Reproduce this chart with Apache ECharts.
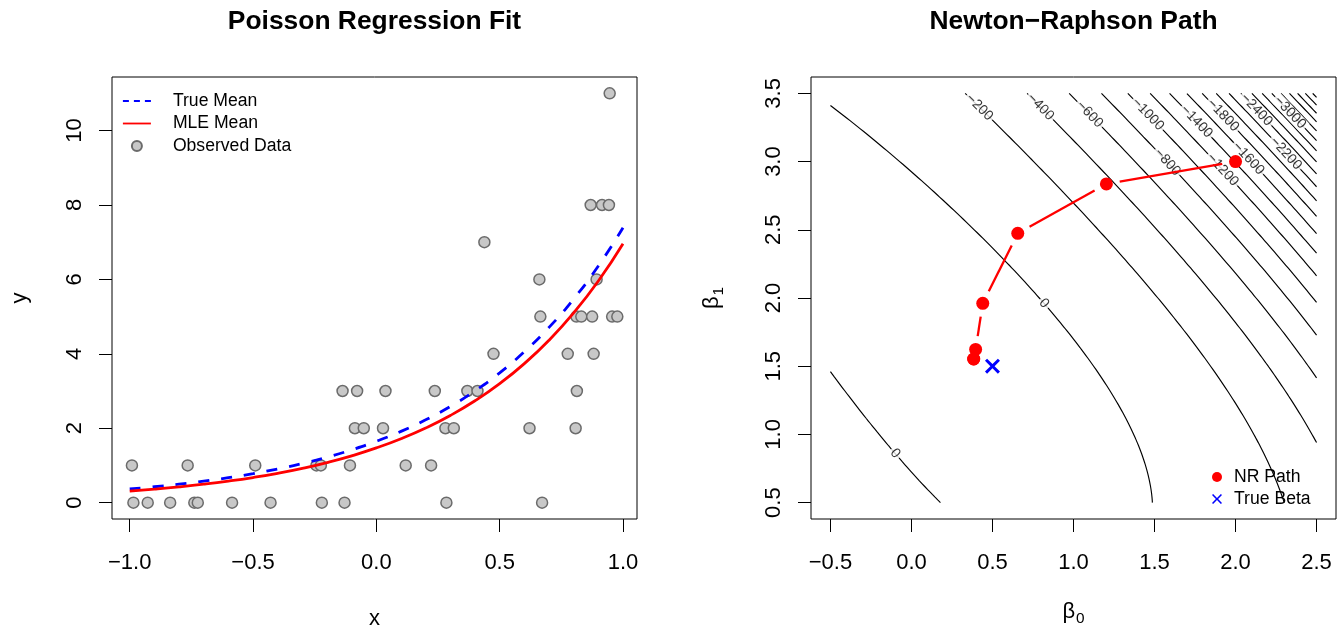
<!DOCTYPE html>
<html>
<head>
<meta charset="utf-8">
<script src="https://cdn.jsdelivr.net/npm/echarts@6.0.0/dist/echarts.min.js"></script>
<style>
html,body{margin:0;padding:0;background:#fff;}
#chart{width:1343px;height:632px;}
</style>
</head>
<body>
<div id="chart"></div>
<script>
// ---------------- data ----------------
// Observed Poisson data (x, count)
const obsX = [-0.985,-0.927,-0.836,-0.738,-0.724,-0.585,-0.429,-0.221,-0.129,0.284,0.672,
              -0.991,-0.765,-0.491,-0.243,-0.225,-0.107,0.119,0.222,
              -0.087,-0.051,0.027,0.280,0.314,0.621,0.808,
              -0.137,-0.078,0.037,0.237,0.369,0.410,0.813,
              0.475,0.776,0.881,
              0.665,0.811,0.831,0.875,0.956,0.977,
              0.661,0.893,
              0.438,
              0.869,0.915,0.943,
              0.946];
const obsY = [0,0,0,0,0,0,0,0,0,0,0,
              1,1,1,1,1,1,1,1,
              2,2,2,2,2,2,2,
              3,3,3,3,3,3,3,
              4,4,4,
              5,5,5,5,5,5,
              6,6,
              7,
              8,8,8,
              11];
// Fitted curves
const curveX   = [-1,-0.9,-0.8,-0.7,-0.6,-0.5,-0.4,-0.3,-0.2,-0.1,0,0.1,0.2,0.3,0.4,0.5,0.6,0.7,0.8,0.9,1];
const trueMean = [0.368,0.427,0.497,0.577,0.670,0.779,0.905,1.051,1.221,1.419,1.649,1.916,2.226,2.586,3.004,3.490,4.055,4.711,5.474,6.360,7.389];
const mleMean  = [0.310,0.363,0.424,0.495,0.578,0.675,0.789,0.922,1.077,1.258,1.470,1.717,2.006,2.343,2.737,3.198,3.736,4.364,5.099,5.956,6.959];
// Newton-Raphson iterates and the true coefficients
const nrB0 = [2.0, 1.203, 0.656, 0.440, 0.396, 0.384, 0.384];
const nrB1 = [3.0, 2.836, 2.474, 1.961, 1.623, 1.553, 1.553];
const trueBeta = [0.5, 1.5];
// Contour grid range and levels of the log-likelihood surface
const gridB0Range = [-0.5, 2.5];
const gridB1Range = [0.5, 3.5];
const contourLevels = [0,-200,-400,-600,-800,-1000,-1200,-1400,-1600,-1800,-2000,-2200,-2400,-2600,-2800,-3000,-3200,-3400,-3600,-3800,-4000,-4200,-4400,-4600,-4800,-5000];
// Tick values / labels
const fitXTicks = [-1,-0.5,0,0.5,1];
const fitXTickLabels = ['\u22121.0','\u22120.5','0.0','0.5','1.0'];
const fitYTicks = [0,2,4,6,8,10];
const fitYTickLabels = ['0','2','4','6','8','10'];
const nrXTicks = [-0.5,0,0.5,1,1.5,2,2.5];
const nrXTickLabels = ['\u22120.5','0.0','0.5','1.0','1.5','2.0','2.5'];
const nrYTicks = [0.5,1,1.5,2,2.5,3,3.5];
const nrYTickLabels = ['0.5','1.0','1.5','2.0','2.5','3.0','3.5'];

// ---------------- layout (not data) ----------------
const FONT = '"Liberation Sans", Arial, Helvetica, sans-serif';
const fitXRange = [-1.0718, 1.0568];
const fitYRange = [-0.44, 11.44];
const nrXRange = [-0.62, 2.62];
const nrYRange = [0.38, 3.62];
const GRID_W = 525, GRID_H = 442;
// where the reference put each contour label: [level, b0, b1]
const contourLabelSpots = [
  [-200, 0.405, 3.363], [-400, 0.765, 3.375], [-600, 1.063, 3.314], [-800, 1.536, 2.934],
  [-1000, 1.412, 3.301], [-1200, 1.865, 2.873], [-1400, 1.710, 3.228], [-1600, 2.020, 2.959],
  [-1800, 1.865, 3.277], [-2200, 2.245, 2.996], [-2400, 2.081, 3.314], [-3000, 2.272, 3.301],
  [0, 0.816, 1.966], [0, -0.103, 0.863]
];

// ---------------- Poisson log-likelihood surface from the observed data ----------------
const NG = 151;
const b0Grid = [], b1Grid = [];
for (let i = 0; i < NG; i++) {
  b0Grid.push(gridB0Range[0] + (gridB0Range[1] - gridB0Range[0]) * i / (NG - 1));
  b1Grid.push(gridB1Range[0] + (gridB1Range[1] - gridB1Range[0]) * i / (NG - 1));
}
let Sy = 0, Syx = 0;
obsX.forEach((x, k) => { Sy += obsY[k]; Syx += obsY[k] * x; });
const E1 = b1Grid.map(b1 => obsX.reduce((s, x) => s + Math.exp(b1 * x), 0));
const Z = b0Grid.map(b0 => b1Grid.map((b1, j) => b0 * Sy + b1 * Syx - Math.exp(b0) * E1[j]));

function contourPolylines(level) {
  const pts = {}, segs = [];
  function ep(key, x1, y1, v1, x2, y2, v2) {
    if (!(key in pts)) { const t = (level - v1) / (v2 - v1); pts[key] = [x1 + t * (x2 - x1), y1 + t * (y2 - y1)]; }
    return key;
  }
  for (let i = 0; i < NG - 1; i++) for (let j = 0; j < NG - 1; j++) {
    const a = Z[i][j], b = Z[i + 1][j], c = Z[i + 1][j + 1], d = Z[i][j + 1];
    const e = [];
    if ((a >= level) !== (b >= level)) e.push(ep('h' + i + '_' + j, b0Grid[i], b1Grid[j], a, b0Grid[i + 1], b1Grid[j], b));
    if ((b >= level) !== (c >= level)) e.push(ep('v' + (i + 1) + '_' + j, b0Grid[i + 1], b1Grid[j], b, b0Grid[i + 1], b1Grid[j + 1], c));
    if ((d >= level) !== (c >= level)) e.push(ep('h' + i + '_' + (j + 1), b0Grid[i], b1Grid[j + 1], d, b0Grid[i + 1], b1Grid[j + 1], c));
    if ((a >= level) !== (d >= level)) e.push(ep('v' + i + '_' + j, b0Grid[i], b1Grid[j], a, b0Grid[i], b1Grid[j + 1], d));
    if (e.length === 2) segs.push([e[0], e[1]]);
    else if (e.length === 4) {
      const m = (a + b + c + d) / 4;
      if ((m >= level) === (a >= level)) { segs.push([e[0], e[1]]); segs.push([e[2], e[3]]); }
      else { segs.push([e[0], e[3]]); segs.push([e[1], e[2]]); }
    }
  }
  const adj = {};
  segs.forEach((s, k) => { (adj[s[0]] = adj[s[0]] || []).push(k); (adj[s[1]] = adj[s[1]] || []).push(k); });
  const used = new Array(segs.length).fill(false);
  const lines = [];
  for (let k = 0; k < segs.length; k++) {
    if (used[k]) continue;
    used[k] = true;
    const chain = [segs[k][0], segs[k][1]];
    [true, false].forEach(atEnd => {
      while (true) {
        const key = atEnd ? chain[chain.length - 1] : chain[0];
        const nb = (adj[key] || []).find(m => !used[m]);
        if (nb === undefined) break;
        used[nb] = true;
        const s = segs[nb];
        const nxt = s[0] === key ? s[1] : s[0];
        if (atEnd) chain.push(nxt); else chain.unshift(nxt);
      }
    });
    lines.push(chain.map(key => pts[key]));
  }
  return lines;
}

const contourByLevel = {};
const contourSeries = [];
contourLevels.forEach(level => {
  const polys = contourPolylines(level);
  contourByLevel[level] = polys;
  polys.forEach(poly => {
    contourSeries.push({
      type: 'line', xAxisIndex: 1, yAxisIndex: 1, data: poly, symbol: 'none', silent: true,
      lineStyle: { color: '#000', width: 1.15 }, z: 1, emphasis: { disabled: true }
    });
  });
});

// contour labels, snapped onto the computed lines and oriented along them
const sx = GRID_W / (nrXRange[1] - nrXRange[0]);
const sy = GRID_H / (nrYRange[1] - nrYRange[0]);
const labelData = [];
contourLabelSpots.forEach(([level, hx, hy]) => {
  const polys = contourByLevel[level] || [];
  let best = null;
  polys.forEach(poly => poly.forEach((p, k) => {
    const d = Math.hypot((p[0] - hx) * sx, (p[1] - hy) * sy);
    if (!best || d < best.d) best = { d, poly, k };
  }));
  if (!best) return;
  const poly = best.poly, k = best.k;
  const p1 = poly[Math.max(0, k - 3)], p2 = poly[Math.min(poly.length - 1, k + 3)];
  let ang = Math.atan2((p2[1] - p1[1]) * sy, (p2[0] - p1[0]) * sx) * 180 / Math.PI;
  if (ang > 90) ang -= 180;
  if (ang < -90) ang += 180;
  const txt = level < 0 ? '\u2212' + Math.abs(level) : String(level);
  labelData.push({ value: poly[k], label: { rotate: ang, formatter: txt } });
});

// ---------------- chart ----------------
function valueAxis(gridIndex, range, ticks, labels, isY, margin) {
  return {
    type: 'value', gridIndex, min: range[0], max: range[1],
    splitLine: { show: false },
    axisLine: { show: false, onZero: false },
    axisTick: { show: true, inside: false, length: 13, customValues: ticks, lineStyle: { color: '#000', width: 1 } },
    axisLabel: {
      show: true, customValues: ticks, margin, rotate: isY ? 90 : 0,
      formatter: v => { const i = ticks.indexOf(v); return i >= 0 ? labels[i] : ''; },
      color: '#000', fontSize: 22, fontFamily: FONT
    },
    nameLocation: 'middle', nameMoveOverlap: false,
    nameTextStyle: { color: '#000', fontSize: 22, fontFamily: FONT }
  };
}

const xAxes = [
  Object.assign(valueAxis(0, fitXRange, fitXTicks, fitXTickLabels, false, 33), { name: 'x', nameGap: 89 }),
  Object.assign(valueAxis(1, nrXRange, nrXTicks, nrXTickLabels, false, 33), { name: '{b|\u03b2}{s|0}', nameGap: 78 })
];
const yAxes = [
  Object.assign(valueAxis(0, fitYRange, fitYTicks, fitYTickLabels, true, 26), { name: 'y', nameGap: 81 }),
  Object.assign(valueAxis(1, nrYRange, nrYTicks, nrYTickLabels, true, 26), { name: '{b|\u03b2}{s|1}', nameGap: 85 })
];
const richSub = {
  b: { fontSize: 22, lineHeight: 26, fontFamily: FONT, color: '#000' },
  s: { fontSize: 15.4, padding: [14, 0, 0, 1], fontFamily: FONT, color: '#000' }
};
xAxes[1].nameTextStyle.rich = richSub;
yAxes[1].nameTextStyle.rich = richSub;

const xPath = 'path://M0,1.4L1.4,0L5,3.6L8.6,0L10,1.4L6.4,5L10,8.6L8.6,10L5,6.4L1.4,10L0,8.6L3.6,5Z';
const xPathThin = 'path://M0,1.1L1.1,0L5,3.9L8.9,0L10,1.1L6.1,5L10,8.9L8.9,10L5,6.1L1.1,10L0,8.9L3.9,5Z';

const option = {
  animation: false,
  backgroundColor: '#fff',
  textStyle: { fontFamily: FONT },
  title: [
    { text: 'Poisson Regression Fit', left: 374.5, top: 9, textAlign: 'center', padding: 0,
      textStyle: { fontSize: 26.4, fontWeight: 'bold', color: '#000', fontFamily: FONT } },
    { text: 'Newton\u2212Raphson Path', left: 1073.5, top: 9, textAlign: 'center', padding: 0,
      textStyle: { fontSize: 26.4, fontWeight: 'bold', color: '#000', fontFamily: FONT } }
  ],
  grid: [
    { left: 112, top: 77, width: GRID_W, height: GRID_H, show: true, borderColor: '#000', borderWidth: 1, containLabel: false, outerBoundsMode: 'none' },
    { left: 811, top: 77, width: GRID_W, height: GRID_H, show: true, borderColor: '#000', borderWidth: 1, containLabel: false, outerBoundsMode: 'none' }
  ],
  xAxis: xAxes,
  yAxis: yAxes,
  legend: [
    {
      orient: 'vertical', left: 117, top: 87, itemWidth: 28, itemHeight: 10, itemGap: 4.5, selectedMode: false,
      textStyle: { fontSize: 17.6, color: '#000', fontFamily: FONT, padding: [0, 0, 0, 17] },
      data: [
        { name: 'True Mean', lineStyle: { width: 1.8, type: [6, 5] }, itemStyle: { opacity: 0 } },
        { name: 'MLE Mean', lineStyle: { width: 1.8 }, itemStyle: { opacity: 0 } },
        { name: 'Observed Data', itemStyle: { opacity: 1 } }
      ]
    },
    {
      orient: 'vertical', left: 1207, top: 463, itemWidth: 14, itemHeight: 10, itemGap: 4, selectedMode: false,
      textStyle: { fontSize: 17.6, color: '#000', fontFamily: FONT, padding: [0, 0, 0, 5] },
      data: [
        { name: 'NR Path', icon: 'circle', itemStyle: { opacity: 1 } },
        { name: 'True Beta', icon: xPathThin, itemStyle: { opacity: 1 } }
      ]
    }
  ],
  series: [
    {
      name: 'Observed Data', type: 'scatter', xAxisIndex: 0, yAxisIndex: 0,
      data: obsX.map((x, i) => [x, obsY[i]]),
      symbol: 'circle', symbolSize: 11,
      itemStyle: { color: '#C8C8C8', borderColor: '#6B6B6B', borderWidth: 1.5, opacity: 1 },
      z: 2, emphasis: { disabled: true }
    },
    {
      name: 'True Mean', type: 'line', xAxisIndex: 0, yAxisIndex: 0,
      data: curveX.map((x, i) => [x, trueMean[i]]), symbol: 'none', smooth: true,
      lineStyle: { color: '#0000FF', width: 2.8, type: [11, 12] }, itemStyle: { color: '#0000FF' },
      z: 3, emphasis: { disabled: true }
    },
    {
      name: 'MLE Mean', type: 'line', xAxisIndex: 0, yAxisIndex: 0,
      data: curveX.map((x, i) => [x, mleMean[i]]), symbol: 'none', smooth: true,
      lineStyle: { color: '#FF0000', width: 2.8 }, itemStyle: { color: '#FF0000' },
      z: 4, emphasis: { disabled: true }
    },
    ...contourSeries,
    {
      name: 'contour labels', type: 'scatter', xAxisIndex: 1, yAxisIndex: 1,
      data: labelData, symbolSize: 1, itemStyle: { color: 'rgba(0,0,0,0)' }, silent: true, z: 2,
      label: { show: true, position: 'inside', fontSize: 14, color: '#000', fontFamily: FONT,
               backgroundColor: '#fff', padding: [0, 2], lineHeight: 13 },
      emphasis: { disabled: true }
    },
    {
      name: 'path segments', type: 'custom', xAxisIndex: 1, yAxisIndex: 1, silent: true, z: 3,
      data: nrB0.map((b, i) => [b, nrB1[i]]), encode: { x: 0, y: 1 },
      renderItem: (params, api) => {
        const i = params.dataIndex;
        if (i >= nrB0.length - 1) return { type: 'group', children: [] };
        const p = api.coord([nrB0[i], nrB1[i]]), q = api.coord([nrB0[i + 1], nrB1[i + 1]]);
        const dx = q[0] - p[0], dy = q[1] - p[1], L = Math.hypot(dx, dy), gap = 13.5;
        if (L <= 2 * gap) return { type: 'group', children: [] };
        const ux = dx / L, uy = dy / L;
        return {
          type: 'line',
          shape: { x1: p[0] + ux * gap, y1: p[1] + uy * gap, x2: q[0] - ux * gap, y2: q[1] - uy * gap },
          style: { stroke: '#FF0000', lineWidth: 2.3 }
        };
      }
    },
    {
      name: 'NR Path', type: 'scatter', xAxisIndex: 1, yAxisIndex: 1,
      data: nrB0.map((b, i) => [b, nrB1[i]]), symbol: 'circle', symbolSize: 13,
      itemStyle: { color: '#FF0000', opacity: 1 }, z: 4, emphasis: { disabled: true }
    },
    {
      name: 'True Beta', type: 'scatter', xAxisIndex: 1, yAxisIndex: 1,
      data: [trueBeta], symbol: xPath, symbolSize: 15,
      itemStyle: { color: '#0000FF', opacity: 1 }, z: 4, emphasis: { disabled: true }
    }
  ]
};

const chart = echarts.init(document.getElementById('chart'), null, { renderer: 'canvas', width: 1343, height: 632 });
chart.setOption(option);
</script>
</body>
</html>
